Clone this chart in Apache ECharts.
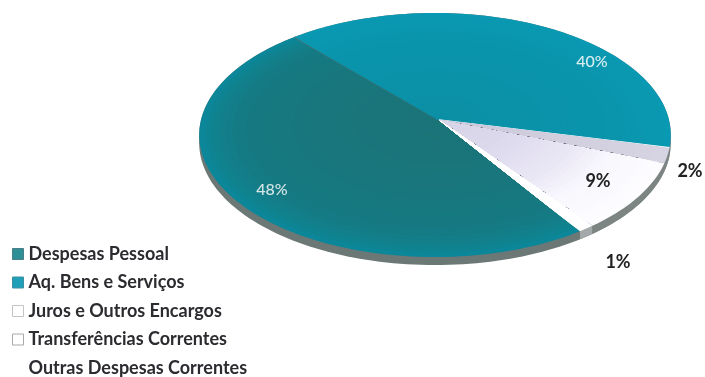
<!DOCTYPE html>
<html>
<head>
<meta charset="utf-8">
<style>html,body{margin:0;padding:0;background:#fff}#c{width:705px;height:377px}</style>
<script src="https://cdn.jsdelivr.net/npm/echarts@6/dist/echarts.min.js"></script>
</head>
<body>
<div id="c"></div>
<script>
// data
const categories = ['Despesas Pessoal','Aq. Bens e Serviços','Juros e Outros Encargos','Transferências Correntes','Outras Despesas Correntes'];
const shares = [48, 40, 2, 9, 1];
const tickLabels = ['48%','40%','2%','9%','1%'];

// styles and layout
const legendFill = ['#2f8f97','#1fa0b8','#ffffff','#ffffff','#ffffff'];
const legendEdge = ['#4a7f86','#3d8ea0','#c4c4c4','#a8a8a8','#ffffff'];
// colour stops from the rim (r = 1) towards the apex (r = 0)
const ringStops = [
  [[1,'#0c8799'],[.95,'#10828f'],[.85,'#157a83'],[.5,'#19767c'],[0,'#1a7478']],
  [[1,'#0a99b2'],[.8,'#0a95ad'],[0,'#0b8fa5']],
  [[1,'#d6d3e2'],[0,'#cbc8da']],
  [[1,'#fdfcff'],[.78,'#f8f7fd'],[.6,'#e9e6f5'],[.3,'#dcd8ec'],[0,'#d8d4e8']],
  [[1,'#ffffff'],[0,'#ffffff']]
];
const labelAt = [[272,190],[592,62],[690,171],[598,181],[618,262]];
const labelStyle = [
  {fill:'#d5e6e6',font:'500 16px Lato'},
  {fill:'#d8eef2',font:'500 16px Lato'},
  {fill:'#222222',font:'700 18px Lato'},
  {fill:'#222222',font:'700 18px Lato'},
  {fill:'#222222',font:'700 18px Lato'}
];
const apex = {x:439, y:120};
const ax = 234, by = 120.2, persp = 0.123, depth = 8, startDeg = 146.2, apexShift = 4, ringCount = 36;

function proj(tDeg, r){
  const t = tDeg*Math.PI/180;
  const X = r*Math.sin(t), Y = -r*Math.cos(t), w = 1 - persp*Y;
  return [apex.x + ax*X/w - apexShift*r, apex.y + by*Y/w];
}
function arcPts(a, b, r){
  const n = Math.max(2, Math.ceil(Math.abs(b-a)/1.5)), pts = [];
  for(let i=0;i<=n;i++) pts.push(proj(a+(b-a)*i/n, r));
  return pts;
}
function hex(c){return [1,3,5].map(i=>parseInt(c.substr(i,2),16));}
function colorAt(stops, r){
  for(let i=0;i<stops.length-1;i++){
    const [r0,c0]=stops[i],[r1,c1]=stops[i+1];
    if(r<=r0 && r>=r1){
      const f=(r0-r)/(r0-r1||1),a=hex(c0),b=hex(c1);
      return 'rgb('+a.map((v,k)=>Math.round(v+(b[k]-v)*f)).join(',')+')';
    }
  }
  return stops[stops.length-1][1];
}
const total = shares.reduce((s,v)=>s+v,0);
function sliceAngles(i){
  let acc = 0;
  for(let k=0;k<i;k++) acc += shares[k];
  const a = startDeg + acc/total*360;
  return [a, a + shares[i]/total*360];
}
function renderSlice(i){
  return function(){
    const [a,b] = sliceAngles(i), children = [];
    for(let k=0;k<ringCount;k++){
      const r = 1 - k/ringCount;
      children.push({type:'polygon',shape:{points:[[apex.x,apex.y]].concat(arcPts(a,b,r))},
        style:{fill:colorAt(ringStops[i],r)}});
    }
    const p = proj(b,1);
    if(i===0) children.push({type:'line',shape:{x1:apex.x,y1:apex.y,x2:p[0],y2:p[1]},style:{stroke:'#4e7476',lineWidth:1.6}});
    if(i===1) children.push({type:'line',shape:{x1:apex.x,y1:apex.y,x2:p[0],y2:p[1]},style:{stroke:'#ffffff',lineWidth:1.4}});
    if(i===2 || i===3){
      const e = proj(b,.9), s = proj(b,.08);
      children.push({type:'line',shape:{x1:s[0],y1:s[1],x2:e[0],y2:e[1]},
        style:{stroke:'#1a1a2a',lineWidth:1.3,lineDash:i===2?[5,7]:[4,24]}});
    }
    children.push({type:'text',z2:20,style:{text:tickLabels[i],x:labelAt[i][0],y:labelAt[i][1],
      fill:labelStyle[i].fill,font:labelStyle[i].font,align:'center',verticalAlign:'middle'}});
    return {type:'group',children};
  };
}
function renderWall(){
  const pts = arcPts(0,360,1).map(p=>[p[0],p[1]+depth]);
  const rim = arcPts(0,360,1);
  return {type:'group',children:[
    {type:'polygon',shape:{points:pts},style:{fill:'#6b7876'}},
    {type:'polygon',shape:{points:rim},style:{fill:'#6b7876'}}
  ]};
}
function renderEdge(){
  const [a,b] = sliceAngles(4);
  const outer = arcPts(a,b,1);
  const low = outer.map(p=>[p[0],p[1]+depth]).reverse();
  const [a2,b2] = [sliceAngles(2)[0], sliceAngles(3)[1]];
  const o2 = arcPts(a2,b2,1);
  const l2 = o2.map(p=>[p[0],p[1]+depth]).reverse();
  return {type:'group',children:[
    {type:'polygon',shape:{points:outer.concat(low)},style:{fill:'#a3a9a8'}},
    {type:'polygon',shape:{points:o2.concat(l2)},style:{fill:'#7d8583'}}
  ]};
}
const chart = echarts.init(document.getElementById('c'),null,{renderer:'canvas'});
const series = [
  {type:'custom',name:'wall',coordinateSystem:'none',silent:true,z:1,data:[1],renderItem:renderWall},
  {type:'custom',name:'edge',coordinateSystem:'none',silent:true,z:2,data:[1],renderItem:renderEdge}
];
categories.forEach((name,i)=>{
  series.push({type:'custom',name,coordinateSystem:'none',silent:true,z:3+i,
    itemStyle:{color:legendFill[i]},data:[shares[i]],renderItem:renderSlice(i)});
});
chart.setOption({
  animation:false,
  backgroundColor:'#ffffff',
  legend:{
    orient:'vertical',left:12,top:245,height:200,padding:0,itemWidth:11,itemHeight:11,itemGap:10.5,
    icon:'rect',selectedMode:false,
    textStyle:{fontFamily:'Lato',fontSize:18,fontWeight:700,color:'#2b2b30',lineHeight:17},
    data:categories.map((name,i)=>({name,itemStyle:{color:legendFill[i],borderColor:legendEdge[i],borderWidth:1}}))
  },
  series
});
</script>
</body>
</html>
